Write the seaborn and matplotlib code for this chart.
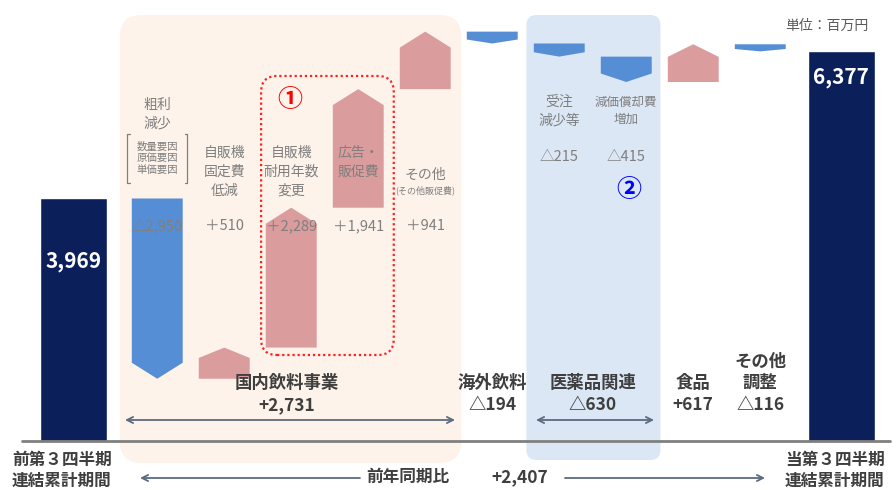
import numpy as np
import matplotlib
matplotlib.use("Agg")
import matplotlib.pyplot as plt
from matplotlib.patches import Polygon, FancyBboxPatch
import seaborn as sns

# operating profit bridge, 単位：百万円
start_value = 3969
end_value = 6377
start_label = "前第３四半期\n連結累計期間"
end_label = "当第３四半期\n連結累計期間"

step_values = [-2950, 510, 2289, 1941, 941, -194, -215, -415, 617, -116]
detail_labels = ["粗利\n減少", "自販機\n固定費\n低減", "自販機\n耐用年数\n変更",
                 "広告・\n販促費", "その他", "", "受注\n減少等", "減価償却費\n増加", "", ""]

segment_labels = ["国内飲料事業", "海外飲料", "医薬品関連", "食品", "その他\n調整"]
segment_values = [2731, -194, -630, 617, -116]
segment_steps = [[0, 1, 2, 3, 4], [5], [6, 7], [8], [9]]
yoy_value = 2407

NAVY = "#0B1F5B"
BLUE = "#568ED6"
PINK = "#DA9C9C"
GRAY = "#7F7F7F"
DARK = "#3F3F3F"

# pixel mapping of the original slide
PX_X, PX_Y = 67.0, 0.0611
X0, Y0 = 73.5, 441


def px(xp, yp):
    return (xp - X0) / PX_X, (Y0 - yp) / PX_Y


def fmt(v, wide=True):
    if v < 0:
        return f"△{abs(v):,}"
    return ("＋" if wide else "+") + f"{v:,}"


sns.set_theme(style="white")
plt.rcParams["font.family"] = ["Noto Sans CJK JP", "DejaVu Sans"]

fig = plt.figure(figsize=(8.93, 4.91), dpi=100)
ax = fig.add_axes([0, 0, 1, 1])
ax.set_xlim(px(0, 0)[0], px(893, 0)[0])
ax.set_ylim(px(0, 491)[1], px(0, 0)[1])
ax.axis("off")

step_x = 1.25 + np.arange(len(step_values))
x_start, x_end = 0.0, step_x[-1] + 1.21
cum = start_value + np.cumsum(step_values)
bases = np.r_[start_value, cum[:-1]]


def panel(xa, xb, top_p, bot_p, r, **kw):
    ya, yb = px(0, bot_p)[1], px(0, top_p)[1]
    box = FancyBboxPatch((xa, ya), xb - xa, yb - ya,
                         boxstyle=f"round,pad=0,rounding_size={r / PX_X}",
                         mutation_aspect=PX_X / PX_Y, **kw)
    ax.add_patch(box)


# background groups
panel(step_x[0] - 0.56, step_x[4] + 0.54, 15, 463, 22, fc="#FDF3EA", ec="none", zorder=0)
panel(step_x[6] - 0.49, step_x[7] + 0.51, 15, 460, 10, fc="#DCE7F5", ec="none", zorder=0)
panel(step_x[2] - 0.45, step_x[3] + 0.53, 76, 355, 16, fc="none", ec="#FF2020",
      lw=1.6, ls=(0, (1, 1.3)), zorder=3)

# totals
ax.bar([x_start, x_end], [start_value, end_value], width=1.0, color=NAVY, zorder=2)
ax.text(x_start, px(0, 262)[1], f"{start_value:,}", color="white", fontsize=15,
        fontweight="bold", ha="center", va="center", zorder=4)
ax.text(x_end, px(0, 77)[1], f"{end_value:,}", color="white", fontsize=15,
        fontweight="bold", ha="center", va="center", zorder=4)

# step arrows
w = 0.76
tip_max = 16 / PX_Y
for x, base, d in zip(step_x, bases, step_values):
    top = base + d
    tip = min(tip_max, abs(d) / 3) * np.sign(d)
    pts = [(x - w / 2, base), (x - w / 2, top - tip), (x, top),
           (x + w / 2, top - tip), (x + w / 2, base)]
    ax.add_patch(Polygon(pts, closed=True, fc=PINK if d > 0 else BLUE, ec="none", zorder=2))

# baseline
ax.plot([px(22, 0)[0], px(890, 0)[0]], [0, 0], color=GRAY, lw=2, zorder=3)

# detail labels
txt = dict(color=GRAY, fontsize=10, ha="center", va="center", linespacing=1.45, zorder=4)
ax.text(step_x[0], px(0, 114)[1], detail_labels[0], **txt)
ax.text(step_x[0], px(0, 158)[1], "数量要因\n原価要因\n単価要因", color=GRAY, fontsize=7.5,
        ha="center", va="center", linespacing=1.2, zorder=4)
for side, sgn in ((-0.45, 1), (0.45, -1)):
    bx = step_x[0] + side
    y1, y2 = px(0, 134)[1], px(0, 183)[1]
    ax.plot([bx + sgn * 0.04, bx, bx, bx + sgn * 0.04], [y1, y1, y2, y2], color=GRAY, lw=0.9, zorder=4)
for i in (1, 2):
    ax.text(step_x[i], px(0, 172)[1], detail_labels[i], **txt)
ax.text(step_x[3], px(0, 162)[1], detail_labels[3], **txt)
ax.text(step_x[4], px(0, 175)[1], detail_labels[4], **txt)
ax.text(step_x[4], px(0, 190)[1], "(その他販促費)", color=GRAY, fontsize=6.5,
        ha="center", va="center", zorder=4)
for i in range(5):
    ax.text(step_x[i], px(0, 226)[1], fmt(step_values[i]), color=GRAY, fontsize=10.5,
            ha="center", va="center", zorder=4)
ax.text(step_x[6], px(0, 111)[1], detail_labels[6], **txt)
ax.text(step_x[7], px(0, 111)[1], detail_labels[7], **{**txt, "fontsize": 9})
for i in (6, 7):
    ax.text(step_x[i], px(0, 157)[1], fmt(step_values[i]), color=GRAY, fontsize=10.5,
            ha="center", va="center", zorder=4)

ax.text(*px(290, 100), "①", color="#FF0000", fontsize=18, fontweight="bold",
        ha="center", va="center", zorder=4)
ax.text(*px(629, 190), "②", color="#0000FF", fontsize=18, fontweight="bold",
        ha="center", va="center", zorder=4)

# segment labels
bold = dict(color=DARK, fontsize=12.5, fontweight="bold", ha="center", va="center", zorder=4)
for lab, val, steps in zip(segment_labels, segment_values, segment_steps):
    cx = np.mean(step_x[steps])
    if len(steps) == 5:
        cx = px(287, 0)[0]
    lines = lab.split("\n")
    for k, line in enumerate(lines):
        ax.text(cx, px(0, 383 - 21 * (len(lines) - 1 - k))[1], line, **bold)
    ax.text(cx, px(0, 405)[1], fmt(val, wide=False), **bold)

arrow = dict(arrowstyle="<->", color="#5B6B80", lw=1.3, shrinkA=0, shrinkB=0, mutation_scale=11)
ax.annotate("", xy=px(125, 420), xytext=px(455, 420), arrowprops=arrow, zorder=4)
ax.annotate("", xy=px(536, 420), xytext=px(654, 420), arrowprops=arrow, zorder=4)

# bottom labels
ax.text(*px(12, 470), start_label, color=DARK, fontsize=12, fontweight="bold",
        ha="left", va="center", linespacing=1.2)
ax.text(*px(785, 470), end_label, color=DARK, fontsize=12, fontweight="bold",
        ha="left", va="center", linespacing=1.2)
ax.text(*px(408, 477), "前年同期比", color=DARK, fontsize=12, fontweight="bold",
        ha="center", va="center")
ax.text(*px(520, 477), fmt(yoy_value, wide=False), color=DARK, fontsize=12.5,
        fontweight="bold", ha="center", va="center")
one_way = dict(arrowstyle="->", color="#5B6B80", lw=1.3, shrinkA=0, shrinkB=0, mutation_scale=11)
ax.annotate("", xy=px(140, 478), xytext=px(360, 478), arrowprops=one_way)
ax.annotate("", xy=px(765, 478), xytext=px(565, 478), arrowprops=one_way)

ax.text(*px(827, 26), "単位：百万円", color="#595959", fontsize=10, ha="center", va="center")

fig.savefig("out.png", dpi=100)
